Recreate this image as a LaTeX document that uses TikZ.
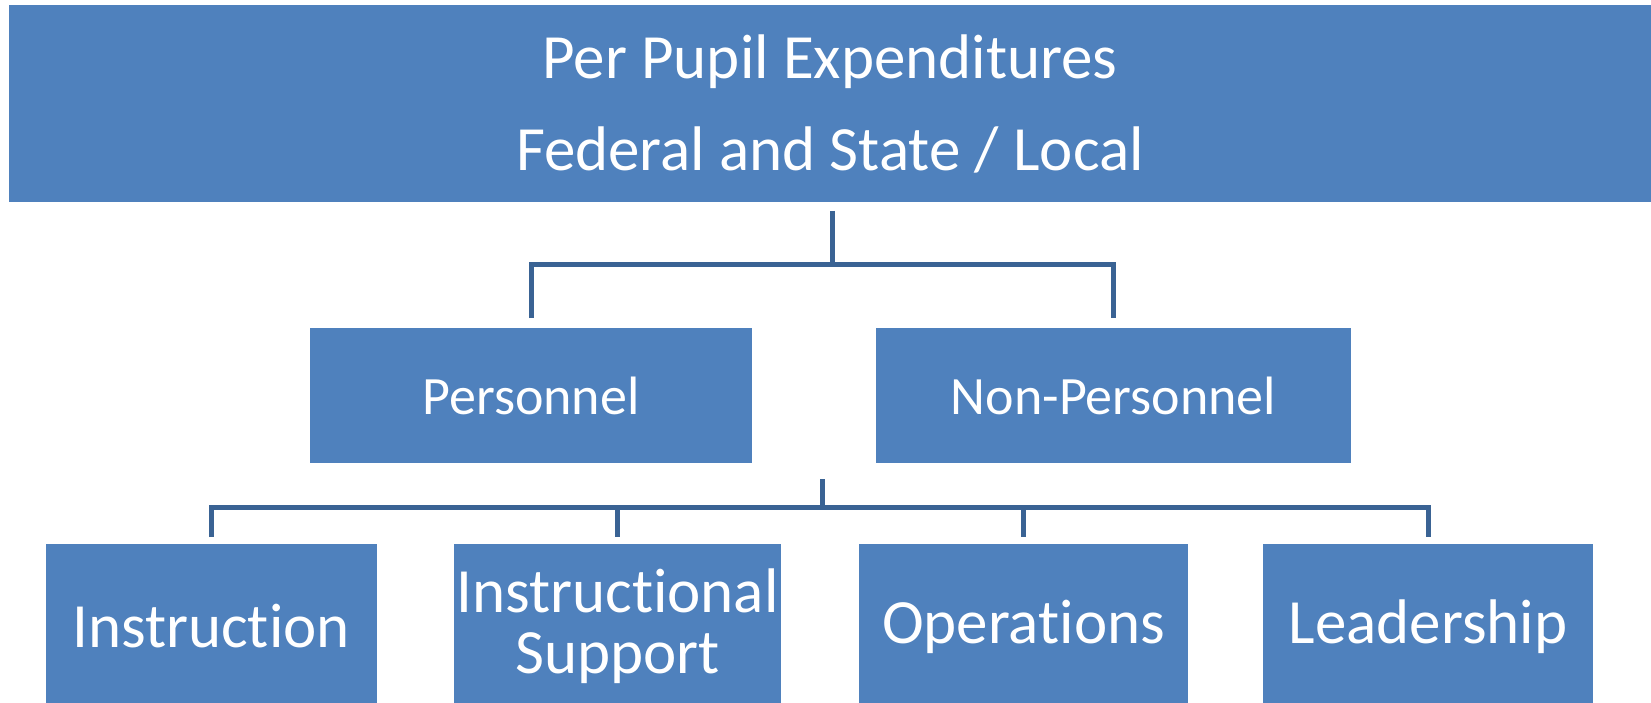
\documentclass[tikz,border=0pt]{standalone}
\usepackage{fontspec}
\setmainfont[RawFeature=-liga]{Carlito}
\definecolor{boxblue}{HTML}{4F81BD}
\definecolor{linkblue}{HTML}{3A6394}
\begin{document}
\begin{tikzpicture}[x=1pt,y=-1pt,
  box/.style={fill=boxblue,draw=none,text=white,align=center,inner sep=0pt},
  conn/.style={draw=linkblue,line width=5pt}]
\useasboundingbox[fill=white] (0,0) rectangle (1651,703);
\begin{scope}
\clip (0,0) rectangle (1651,703);
\node[box,minimum width=1642pt,minimum height=197pt,
  font=\fontsize{63}{92}\selectfont] (top) at (830,103.5)
  {Per Pupil Expenditures\\Federal and State / Local};
\node[box,minimum width=442pt,minimum height=135pt,
  font=\fontsize{54}{65}\selectfont] (pers) at (531,395.5) {Personnel};
\node[box,minimum width=475pt,minimum height=135pt,
  font=\fontsize{54}{65}\selectfont] (npers) at (1113.5,395.5) {Non-Personnel};
\node[box,minimum width=331pt,minimum height=165pt,
  font=\fontsize{63}{76}\selectfont] (instr) at (211,626.5) {Instruction};
\node[box,minimum width=327pt,minimum height=165pt,
  font=\fontsize{63}{61}\selectfont] (isup) at (617.5,626.5) {Instructional\\Support};
\node[box,minimum width=329pt,minimum height=165pt,
  font=\fontsize{63}{76}\selectfont] (ops) at (1023.5,626.5) {Operations};
\node[box,minimum width=330pt,minimum height=165pt,
  font=\fontsize{63}{76}\selectfont] (lead) at (1428,626.5) {Leadership};
\end{scope}
\coordinate (j1) at (832,265);
\coordinate (s1) at (832,211);
\coordinate (s2) at (822,479);
\coordinate (j2) at (822,507);
\draw[conn] (s1) -- (j1);
\draw[conn] (pers.north |- 0,318) -- (pers.north |- j1) -- (npers.north |- j1) -- (npers.north |- 0,318);
\draw[conn] (s2) -- (j2);
\draw[conn] (instr.north |- 0,537) -- (instr.north |- j2) -- (lead.north |- j2) -- (lead.north |- 0,537);
\draw[conn] (isup.north |- j2) -- (isup.north |- 0,537);
\draw[conn] (ops.north |- j2) -- (ops.north |- 0,537);
\end{tikzpicture}
\end{document}
